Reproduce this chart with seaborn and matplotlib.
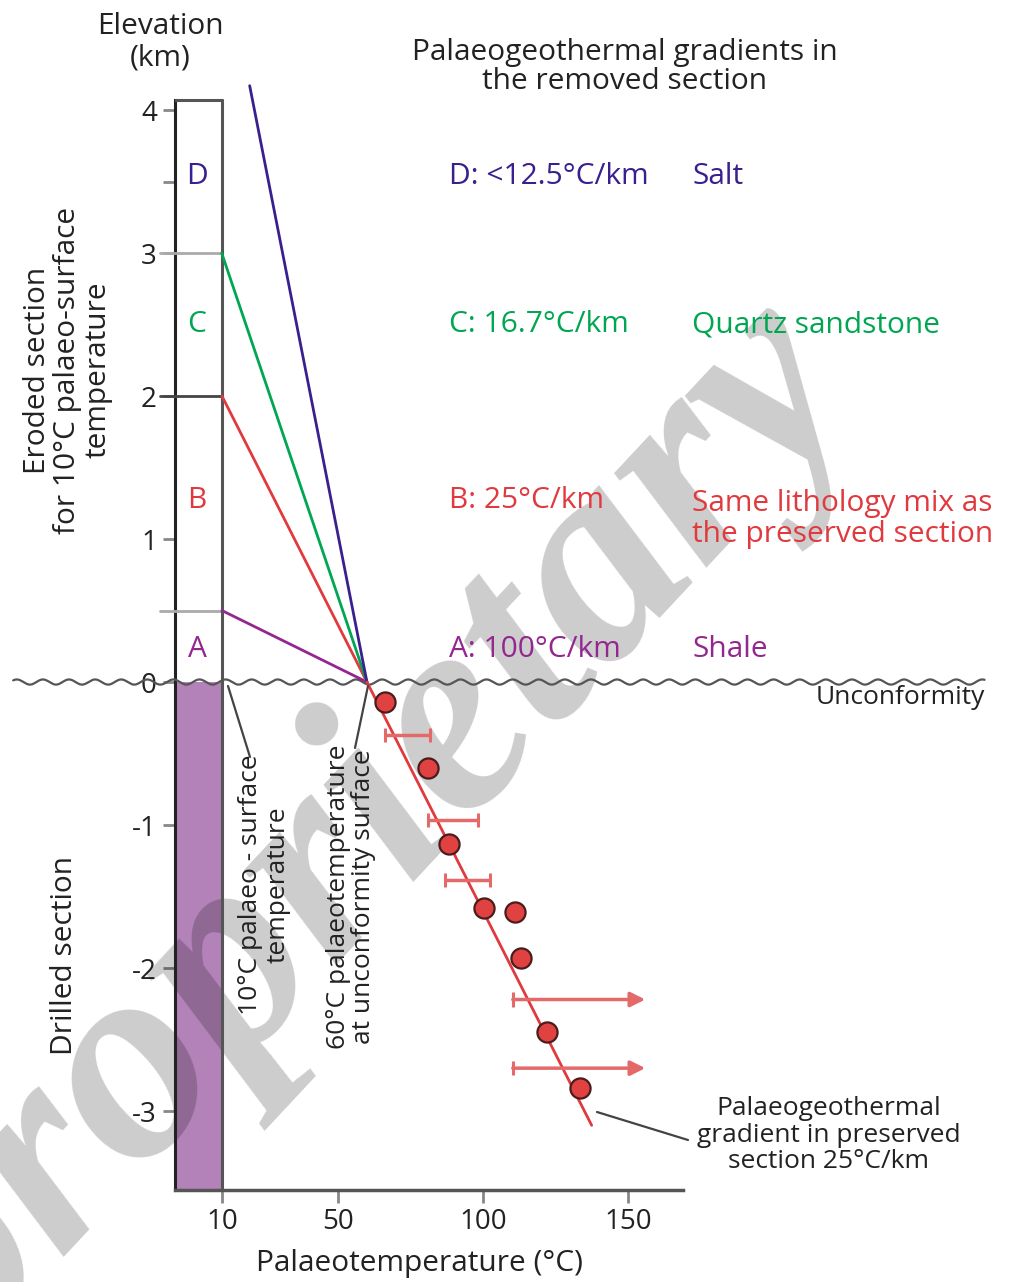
import numpy as np
import pandas as pd
import matplotlib
matplotlib.use("Agg")
import matplotlib.pyplot as plt
from matplotlib.lines import Line2D
import seaborn as sns

# ---- data -------------------------------------------------------------
# Palaeotemperature samples in the drilled (preserved) section
sample_temp = [66.2, 81.0, 88.3, 100.3, 111.0, 113.1, 122.1, 133.4]
sample_elev = [-0.14, -0.60, -1.13, -1.58, -1.61, -1.93, -2.45, -2.84]

# Horizontal uncertainty ranges (depth, low, high, open-ended?)
range_elev = [-0.37, -0.965, -1.385, -2.22, -2.70]
range_low = [66.2, 81.0, 86.9, 110.3, 110.3]
range_high = [81.7, 98.3, 102.4, 156.0, 156.0]
range_open = [False, False, False, True, True]

# Palaeogeothermal gradients in the removed section
grad_names = ["A", "B", "C", "D"]
grad_rates = [100.0, 25.0, 16.7, 9.7]          # °C/km
grad_tops = [0.5, 2.0, 3.0, 4.17]               # km above unconformity
grad_labels = ["A: 100°C/km", "B: 25°C/km", "C: 16.7°C/km", "D: <12.5°C/km"]
grad_litho = ["Shale", "Same lithology mix as\nthe preserved section",
              "Quartz sandstone", "Salt"]
grad_colors = ["#93278f", "#e0393e", "#00a651", "#3a1f8f"]

unconf_temp = 60.0     # °C at the unconformity surface
surface_temp = 10.0    # °C palaeo-surface temperature
preserved_rate = 25.0  # °C/km in preserved section
preserved_end = 137.5  # °C

x_ticks = [10, 50, 100, 150]
y_ticks = [4, 3.5, 3, 2, 1, 0, -1, -2, -3]
y_ticklabels = ["4", "", "3", "2", "1", "0", "-1", "-2", "-3"]

# ---- style ------------------------------------------------------------
sns.set_style("ticks")
FONT = ["Open Sans", "DejaVu Sans"]
plt.rcParams["font.family"] = FONT

BIG = 21.5
SMALL = 19
INK = "#222222"

W, H = 1009, 1282
fig = plt.figure(figsize=(W / 100, H / 100), dpi=100)


def fx(px):
    return px / W


def fy(py):
    return 1 - py / H


x0, x1 = -6.2, 169.0
y0, y1 = -3.552, 4.2
ax = fig.add_axes([fx(175), fy(1190), fx(683) - fx(175), fy(81.4) - fy(1190)])
ax.set_xlim(x0, x1)
ax.set_ylim(y0, y1)

col_top = 4.07
# drilled part of the column
ax.fill_between([x0, surface_temp], y0, 0, color="#b382b9", lw=0, zorder=1)
# column frame
ax.plot([surface_temp, surface_temp], [y0, col_top], color="#555555", lw=2.2, zorder=4)
ax.plot([x0, surface_temp], [col_top, col_top], color="#555555", lw=2.2, zorder=4)
# unit boundaries in the eroded column
for yb, c in [(3.0, "#aaaaaa"), (2.0, "#444444"), (0.5, "#aaaaaa")]:
    ax.plot([-11.5, surface_temp], [yb, yb], color=c, lw=2.0, zorder=3, clip_on=False)

# gradient lines in the removed section
for rate, top, c in zip(grad_rates, grad_tops, grad_colors):
    xt = unconf_temp - rate * top
    ax.plot([xt, unconf_temp], [top, 0], color=c, lw=2.0, zorder=5)

# preserved-section gradient
ax.plot([unconf_temp, preserved_end],
        [0, -(preserved_end - unconf_temp) / preserved_rate],
        color="#e0393e", lw=2.0, zorder=5)

# uncertainty ranges
rc = "#e46a6a"
for ye, lo, hi, op in zip(range_elev, range_low, range_high, range_open):
    ax.vlines(lo, ye - 0.05, ye + 0.05, color=rc, lw=2.2, zorder=5)
    if op:
        ax.annotate("", xy=(hi, ye), xytext=(lo, ye),
                    arrowprops=dict(arrowstyle="-|>", color=rc, lw=2.5,
                                    mutation_scale=22, shrinkA=0, shrinkB=0),
                    zorder=5)
    else:
        ax.hlines(ye, lo, hi, color=rc, lw=2.5, zorder=5)
        ax.vlines(hi, ye - 0.05, ye + 0.05, color=rc, lw=2.2, zorder=5)

# samples
df = pd.DataFrame({"temp": sample_temp, "elev": sample_elev})
sns.scatterplot(data=df, x="temp", y="elev", ax=ax, s=210, color="#e04141",
                edgecolor="#4a1c1c", linewidth=1.6, zorder=6, clip_on=False)

# wavy unconformity line
xw = np.linspace(-62, 273, 3000)
yw = 0.018 * np.sin(2 * np.pi * xw / 9.0)
ax.plot(xw, yw, color="#555555", lw=1.6, zorder=4, clip_on=False)

# axes
for s in ["top", "right"]:
    ax.spines[s].set_visible(False)
ax.spines["left"].set_bounds(y0, col_top)
ax.spines["left"].set_color("#222222")
ax.spines["left"].set_linewidth(2.2)
ax.spines["bottom"].set_color("#555555")
ax.spines["bottom"].set_linewidth(2.5)
ax.set_xticks(x_ticks)
ax.set_yticks(y_ticks)
ax.set_yticklabels(y_ticklabels)
ax.tick_params(axis="both", colors="#888888", length=9, width=2, labelsize=20,
               labelcolor=INK, pad=4)
ax.set_xlabel("")
ax.set_ylabel("")

# watermark
ax.text(fx(371), fy(849), "proprietary", transform=fig.transFigure,
        rotation=47, fontsize=207, family="Liberation Serif", weight="bold",
        style="italic", color="black", alpha=0.2, ha="center", va="center",
        zorder=1.5, clip_on=False)

# unit letters in the column
letter_y = [650, 500, 325, 177]
for name, c, py in zip(grad_names, grad_colors, letter_y):
    fig.text(fx(197), fy(py), name, color=c, fontsize=BIG, ha="center", va="center")

# gradient descriptions
lab_y = [650, 500, 325, 177]
for lab, lit, c, py in zip(grad_labels, grad_litho, grad_colors, lab_y):
    fig.text(fx(449), fy(py), lab, color=c, fontsize=BIG, ha="left", va="center")
    fig.text(fx(692), fy(py + (19 if "\n" in lit else 0)), lit, color=c,
             fontsize=BIG, ha="left", va="center", linespacing=1.1)

fig.text(fx(625), fy(67), "Palaeogeothermal gradients in\nthe removed section",
         fontsize=BIG, ha="center", va="center", color=INK, linespacing=1.0)
fig.text(fx(160), fy(42), "Elevation\n(km)", fontsize=BIG, ha="center",
         va="center", color=INK, linespacing=1.1)
fig.text(fx(68), fy(370), "Eroded section\nfor 10°C palaeo-surface\ntemperature",
         rotation=90, fontsize=BIG, ha="center", va="center", color=INK,
         linespacing=1.05)
fig.text(fx(65), fy(955), "Drilled section", rotation=90, fontsize=BIG,
         ha="center", va="center", color=INK)
fig.text(fx(985), fy(698), "Unconformity", fontsize=SMALL, ha="right",
         va="center", color=INK)
fig.text(fx(420), fy(1263), "Palaeotemperature (°C)", fontsize=BIG,
         ha="center", va="center", color=INK)
fig.text(fx(264), fy(885), "10°C palaeo - surface\ntemperature", rotation=90,
         fontsize=SMALL, ha="center", va="center", color=INK,
         linespacing=1.15, zorder=5)
fig.text(fx(351), fy(897), "60°C palaeotemperature\nat unconformity surface",
         rotation=90, fontsize=SMALL, ha="center", va="center", color=INK,
         linespacing=1.0, zorder=5)
fig.text(fx(829), fy(1135), "Palaeogeothermal\ngradient in preserved\nsection 25°C/km",
         fontsize=SMALL, ha="center", va="center", color=INK, linespacing=1.1)

# leader lines
for (ax_, ay_), (bx_, by_) in [((228, 686), (250, 757)),
                               ((368, 686), (355, 748)),
                               ((597, 1112), (688, 1140))]:
    fig.add_artist(Line2D([fx(ax_), fx(bx_)], [fy(ay_), fy(by_)],
                          color="#444444", lw=1.6))

fig.savefig("out.png", dpi=100)
